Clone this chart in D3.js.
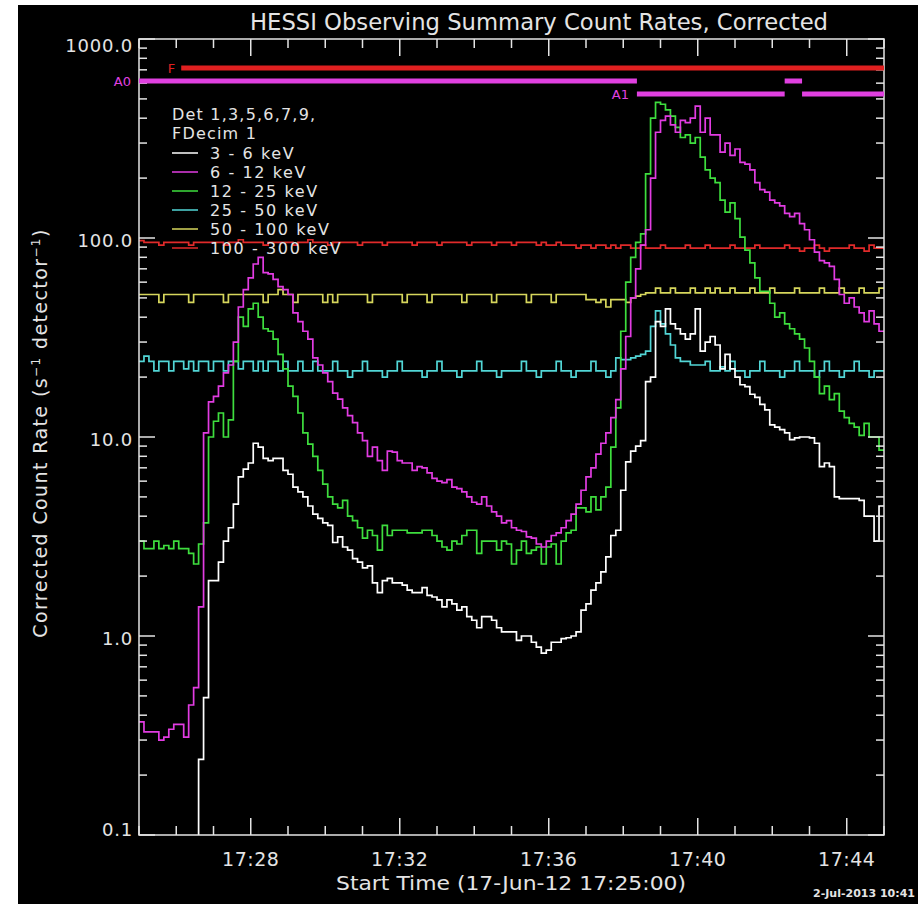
<!DOCTYPE html>
<html><head><meta charset="utf-8">
<script src="https://cdn.jsdelivr.net/npm/d3@7"></script>
<style>
html,body{margin:0;padding:0;background:#fff;}
svg{display:block;}
text{font-family:"DejaVu Sans","Liberation Sans",sans-serif;}
</style></head>
<body><svg id="c" width="918" height="904"></svg>
<script>
// ---------------- DATA ----------------
const startTime = new Date(Date.UTC(2012, 5, 17, 17, 25, 0));
const binSeconds = 8;
const endTime = new Date(Date.UTC(2012, 5, 17, 17, 45, 0));

const white3_6 = [0.05,0.05,0.05,0.05,0.05,0.05,0.05,0.05,0.05,0.05,
 0.05,0.05,0.24,0.49,1.9,1.9,2.35,3.0,3.5,4.6,
 6.3,6.9,7.4,9.3,8.9,7.8,7.6,7.8,7.8,6.8,
 6.5,5.6,5.3,5.0,4.5,4.1,3.9,3.7,3.6,2.95,
 3.15,2.8,2.7,2.45,2.35,2.2,2.25,1.85,1.65,1.9,
 1.95,1.85,1.85,1.8,1.7,1.65,1.65,1.75,1.6,1.57,
 1.52,1.4,1.52,1.45,1.35,1.4,1.25,1.2,1.1,1.25,
 1.25,1.2,1.1,1.05,1.05,1.05,0.95,1.0,1.0,0.93,
 0.88,0.82,0.85,0.93,0.93,0.97,0.98,1.0,1.05,1.35,
 1.45,1.7,1.85,2.1,2.5,3.2,3.4,5.4,7.5,8.5,
 9.0,9.6,19,20,38,36,44,37,35,33,
 31,33,44,27,30,32,29,22,26,22,
 20,18.3,17.9,16.4,15.8,14.6,13.7,11.5,11.2,10.9,
 10.5,9.7,9.9,10,10,9.9,9.3,7.1,7.4,7.1,
 5.0,4.9,4.9,4.9,4.9,4.8,4.0,4.0,3.0,4.5];

const magenta6_12 = [0.37,0.33,0.33,0.33,0.30,0.31,0.34,0.36,0.36,0.31,
 0.45,0.55,1.4,10.5,15,16,18,21,23,30,
 45,55,63,74,80,67,66,62,57,55,
 52,42,38,34,31,25,23,21,19,16.6,
 15.5,14,12.8,11.8,10.5,9.6,8.0,8.9,7.6,6.8,
 8.5,8.4,7.6,7.4,7.4,6.8,7.1,7.0,6.6,6.2,
 6.0,5.9,6.1,5.6,5.5,5.3,5.0,4.7,4.6,5.0,
 4.5,4.2,4.0,3.7,3.8,3.5,3.4,3.35,3.15,3.1,
 2.9,2.8,3.0,3.2,3.3,3.5,3.8,4.1,4.6,5.4,
 6.3,7.0,8.2,9.3,10.5,12.5,15.4,22,32,50,
 70,92,110,200,340,390,410,370,340,390,
 380,400,460,340,400,330,330,270,300,260,
 280,240,235,220,190,175,170,155,150,145,
 133,128,133,118,110,98,85,77,75,72,
 62,52,47,50,45,42,38,43,37,34];

const green12_25 = [3.0,2.75,2.75,3.0,2.75,2.85,2.75,3.0,2.75,2.75,
 2.6,2.3,2.9,3.7,10,12,13.2,10,12.2,24,
 40,36,44,47,40,35,34,31,26,22,
 18,16,13.2,10.5,9.2,8.0,6.8,5.8,5.0,4.6,
 4.4,4.8,4.0,3.8,3.5,3.1,3.4,3.2,2.7,3.6,
 3.2,3.4,3.4,3.4,3.3,3.3,3.3,3.4,3.4,3.2,
 3.0,2.8,2.7,3.0,2.9,3.2,3.4,3.4,2.6,3.0,
 3.0,3.0,2.7,3.0,2.9,2.3,2.7,3.0,2.6,2.7,
 2.8,2.3,2.8,2.9,2.3,3.0,3.3,3.4,4.4,4.4,
 4.2,5.0,4.3,5.0,5.6,8.9,14,34,60,80,
 95,105,210,400,480,470,440,410,360,320,
 330,300,320,255,220,200,190,155,135,150,
 125,101,87,75,63,54,54,47,40,42,
 37,35,33,31,28,24,20,16.5,18,15.4,
 16.5,13.5,12.5,11.7,11.2,10.2,11.7,10,10,8.6];

const cyan25_50 = [24,25.5,24,21.5,24,24,21.5,24,24,22,
 24,21.5,24,24,21.5,24,24,21.5,24,24,
 22,24,24,21.5,24,21.5,24,24,21.5,24,
 21.5,21.5,24,21.5,21.5,24,21.5,21.5,21.5,24,
 21.5,21.5,20,21.5,21.5,24,21.5,21.5,21.5,20,
 21.5,21.5,24,21.5,21.5,21.5,21.5,20,21.5,21.5,
 24,21.5,21.5,21.5,20,21.5,21.5,21.5,24,21.5,
 21.5,21.5,20,21.5,21.5,21.5,21.5,24,21.5,21.5,
 20,21.5,21.5,21.5,24,21.5,21.5,20,21.5,21.5,
 21.5,24,21.5,21.5,20,21.5,25,24.5,24.5,25,
 25.5,26,27,36,43,37,33,29,25,24,
 24,23,23,23,24,21.5,21.5,22.5,21.5,24,
 21.5,21.5,20,21.5,21.5,24,21.5,21.5,21.5,20,
 21.5,21.5,24,21.5,21.5,21.5,20,21.5,24,21.5,
 21.5,20,21.5,21.5,24,21.5,21.5,20,21.5,21.5];

const yellow50_100 = [52,52,52,52,47.5,52,52,52,52,52,
 47.5,52,52,52,52,52,52,47.5,52,52,
 52,52,52,52,52,47.5,52,52,55,52,
 52,47.5,52,52,52,52,52,47.5,52,47.5,
 52,52,52,52,52,52,47.5,52,52,52,
 52,52,52,47.5,52,52,52,52,47.5,52,
 52,52,52,52,52,47.5,52,52,52,52,
 52,47.5,52,52,52,52,52,52,47.5,52,
 52,52,52,47.5,52,52,52,52,52,52,
 49,49,47.5,49,45,49,49,49,47.5,50,
 51,52,53,53,56,53,53,56,53,53,
 53,56,53,53,56,53,56,53,53,56,
 53,53,53,56,53,53,53,56,53,53,
 53,53,56,53,53,53,53,56,53,53,
 53,56,53,53,53,56,53,53,53,56];

const red100_300 = [97,95,95,95,92,95,95,95,95,95,
 92,95,95,95,95,95,95,92,95,95,
 98,95,95,95,95,92,95,95,95,95,
 95,92,95,95,98,95,95,95,92,95,
 95,95,95,95,92,95,95,95,95,92,
 95,95,95,95,95,92,95,95,95,95,
 92,95,95,95,95,95,92,95,95,95,
 95,92,95,95,95,92,95,95,95,95,
 92,95,92,92,95,92,92,92,89,92,
 92,89,92,92,89,92,89,92,92,89,
 89,92,89,89,89,92,89,89,89,89,
 92,89,89,89,92,89,89,89,89,92,
 89,89,89,89,92,89,89,89,89,89,
 92,89,89,86,89,89,92,89,86,89,
 89,89,89,92,89,89,86,92,89,89];

const seriesNames = ["3 - 6 keV","6 - 12 keV","12 - 25 keV","25 - 50 keV","50 - 100 keV","100 - 300 keV"];
const seriesColors = ["#ffffff","#e23ce2","#3ede3e","#52d6d6","#d6d65c","#e02a2a"];
const seriesValues = [white3_6, magenta6_12, green12_25, cyan25_50, yellow50_100, red100_300];

// attenuator / flare flags: label, start, end, row
const flagLabels = ["F","A0","A0","A1","A1"];
const flagStarts = ["17:26:08","17:25:00","17:42:20","17:38:22","17:42:48"];
const flagEnds   = ["17:45:00","17:38:22","17:42:48","17:42:20","17:45:00"];
const flagRows   = [0,1,1,2,2];
const flagShowLabel = [true,true,false,true,false];
const flagColors = ["#e02020","#e040e0","#e040e0","#e040e0","#e040e0"];

const yTickLabels = ["0.1","1.0","10.0","100.0","1000.0"];
const yTickValues = [0.1,1,10,100,1000];

const titleText = "HESSI Observing Summary Count Rates, Corrected";
const xAxisTitle = "Start Time (17-Jun-12 17:25:00)";
const legendHeader = ["Det 1,3,5,6,7,9,","FDecim 1"];
const dateStamp = "2-Jul-2013 10:41";

// ---------------- CHART ----------------
const W = 918, H = 904;
const plot = {left:139, right:884, top:39, bottom:835};
const svg = d3.select("#c");
svg.append("rect").attr("x",18).attr("y",5).attr("width",W-18).attr("height",H-5).attr("fill","#000");

const x = d3.scaleUtc().domain([startTime, endTime]).range([plot.left, plot.right]);
const y = d3.scaleLog().domain([0.1, 1000]).range([plot.bottom, plot.top]);
const fg = "#e4e4e4";

svg.append("defs").append("clipPath").attr("id","clip")
  .append("rect").attr("x",plot.left).attr("y",plot.top)
  .attr("width",plot.right-plot.left).attr("height",plot.bottom-plot.top);

// series
const gLines = svg.append("g").attr("clip-path","url(#clip)");
const line = d3.line().curve(d3.curveStepAfter)
  .x(d=>x(d.t)).y(d=>y(d.v));
seriesValues.map((vals,k)=>({vals,k})).reverse().forEach(({vals,k})=>{
  const pts = vals.map((v,i)=>({t:new Date(+startTime + i*binSeconds*1000), v}));
  pts.push({t:endTime, v:vals[vals.length-1]});
  gLines.append("path").attr("d",line(pts)).attr("fill","none")
    .attr("stroke",seriesColors[k]).attr("stroke-width",1.7);
});

// frame
svg.append("rect").attr("x",plot.left).attr("y",plot.top)
  .attr("width",plot.right-plot.left).attr("height",plot.bottom-plot.top)
  .attr("fill","none").attr("stroke",fg).attr("stroke-width",1.5);

// y ticks (log)
const yTicks = y.ticks();
const isMajor = v => yTickValues.some(m=>Math.abs(Math.log10(v)-Math.log10(m))<1e-6);
const gy = svg.append("g");
yTicks.forEach(v=>{
  const len = isMajor(v)?16:8;
  gy.append("line").attr("x1",plot.left).attr("x2",plot.left+len)
    .attr("y1",y(v)).attr("y2",y(v)).attr("stroke",fg).attr("stroke-width",1.5);
  gy.append("line").attr("x1",plot.right).attr("x2",plot.right-len)
    .attr("y1",y(v)).attr("y2",y(v)).attr("stroke",fg).attr("stroke-width",1.5);
});
yTickValues.forEach((v,i)=>{
  gy.append("text").attr("x",plot.left-6).attr("y",y(v)+(v===1000?13:v===0.1?1:9))
    .attr("text-anchor","end").attr("font-size",18).attr("letter-spacing",0.8)
    .attr("fill",fg).text(yTickLabels[i]);
});

// x ticks
const minuteTicks = x.ticks(d3.utcMinute.every(1));
const gx = svg.append("g");
minuteTicks.forEach(d=>{
  const maj = d.getUTCMinutes()%4===0;
  const len = maj?17:9;
  gx.append("line").attr("x1",x(d)).attr("x2",x(d)).attr("y1",plot.bottom).attr("y2",plot.bottom-len)
    .attr("stroke",fg).attr("stroke-width",1.5);
  gx.append("line").attr("x1",x(d)).attr("x2",x(d)).attr("y1",plot.top).attr("y2",plot.top+len)
    .attr("stroke",fg).attr("stroke-width",1.5);
});
const fmt = d3.utcFormat("%H:%M");
minuteTicks.filter(d=>d.getUTCMinutes()%4===0 && +d>+startTime && +d<+endTime).forEach(d=>{
  gx.append("text").attr("x",x(d)).attr("y",866).attr("text-anchor","middle")
    .attr("font-size",19).attr("letter-spacing",0.5).attr("fill",fg).text(fmt(d));
});

// flag bars
const parseT = s=>{const [h,m,sec]=s.split(":").map(Number); return new Date(Date.UTC(2012,5,17,h,m,sec));};
const gf = svg.append("g");
flagLabels.forEach((lab,i)=>{
  const y0 = plot.top + 29 + flagRows[i]*13;
  gf.append("rect").attr("x",x(parseT(flagStarts[i]))).attr("y",y0-2.5)
    .attr("width",x(parseT(flagEnds[i]))-x(parseT(flagStarts[i]))).attr("height",5)
    .attr("fill",flagColors[i]);
  if (flagShowLabel[i]) {
    gf.append("text").attr("x",x(parseT(flagStarts[i]))-(lab==="F"?6:8)).attr("y",y0+5)
      .attr("text-anchor","end").attr("font-size",13).attr("fill",flagColors[i]).text(lab);
  }
});

// title
svg.append("text").attr("x",539).attr("y",30).attr("text-anchor","middle")
  .attr("font-size",23).attr("fill",fg).attr("textLength",578).attr("lengthAdjust","spacingAndGlyphs")
  .text(titleText);

// x axis title
svg.append("text").attr("x",511).attr("y",890).attr("text-anchor","middle")
  .attr("font-size",19).attr("fill",fg).attr("textLength",350).attr("lengthAdjust","spacingAndGlyphs")
  .text(xAxisTitle);

// y axis title
const yt = svg.append("text").attr("transform","translate(47,433) rotate(-90)")
  .attr("text-anchor","middle").attr("font-size",19).attr("letter-spacing",1.4).attr("fill",fg);
yt.append("tspan").text("Corrected Count Rate (s");
yt.append("tspan").attr("dy",-7).attr("font-size",12).text("−1");
yt.append("tspan").attr("dy",7).text(" detector");
yt.append("tspan").attr("dy",-7).attr("font-size",12).text("−1");
yt.append("tspan").attr("dy",7).text(")");

// legend
const gl = svg.append("g");
legendHeader.forEach((t,i)=>{
  gl.append("text").attr("x",172).attr("y",120+i*19).attr("font-size",16).attr("letter-spacing",1.2)
    .attr("fill",fg).text(t);
});
seriesNames.forEach((n,i)=>{
  const yy = 153 + i*19;
  gl.append("line").attr("x1",172).attr("x2",198).attr("y1",yy).attr("y2",yy)
    .attr("stroke",seriesColors[i]).attr("stroke-width",1.5);
  gl.append("text").attr("x",210).attr("y",yy+6).attr("font-size",16).attr("letter-spacing",1.6)
    .attr("fill",fg).text(n);
});

// date stamp
svg.append("text").attr("x",915).attr("y",897).attr("text-anchor","end")
  .attr("font-size",11).attr("font-weight","bold").attr("fill",fg).text(dateStamp);
</script></body></html>
